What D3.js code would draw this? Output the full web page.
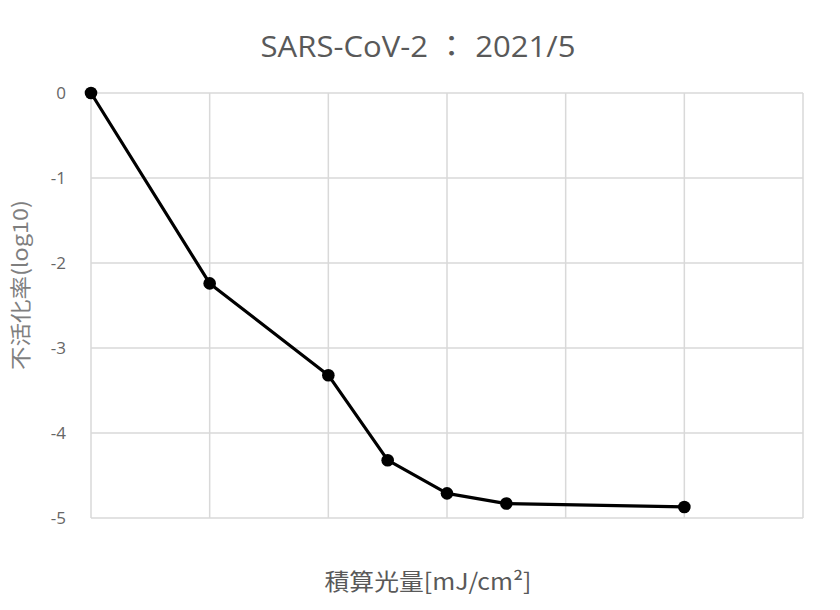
<!DOCTYPE html>
<html>
<head>
<meta charset="utf-8">
<script src="https://cdn.jsdelivr.net/npm/d3@7"></script>
<style>
  html, body { margin: 0; padding: 0; background: #fff; }
  svg { display: block; }
</style>
</head>
<body>
<svg id="chart" width="840" height="610"></svg>
<script>
const titleText = "SARS-CoV-2 ： 2021/5";
const xAxisTitle = "積算光量[mJ/cm²]";
const yAxisTitle = "不活化率(log10)";
const doseValues = [0, 1, 2, 2.5, 3, 3.5, 5];
const inactivation = [0, -2.24, -3.32, -4.32, -4.71, -4.83, -4.87];
const xGridTicks = [0, 1, 2, 3, 4, 5, 6];
const yTicks = [0, -1, -2, -3, -4, -5];

(function () {
const svg = d3.select("#chart");
const plotLeft = 91, plotRight = 803, plotTop = 93, plotBottom = 518;

const x = d3.scaleLinear().domain([0, 6]).range([plotLeft, plotRight]);
const y = d3.scaleLinear().domain([-5, 0]).range([plotBottom, plotTop]);

const grid = "#d9d9d9";
const textGray = "#595959";

svg.append("g").selectAll("line").data(xGridTicks).join("line")
  .attr("x1", d => x(d)).attr("x2", d => x(d))
  .attr("y1", plotTop).attr("y2", plotBottom)
  .attr("stroke", grid).attr("stroke-width", 1.5);

svg.append("g").selectAll("line").data(yTicks).join("line")
  .attr("x1", plotLeft).attr("x2", plotRight)
  .attr("y1", d => y(d)).attr("y2", d => y(d))
  .attr("stroke", grid).attr("stroke-width", 1.5);

const yAxis = d3.axisLeft(y).tickValues(yTicks).tickSize(0).tickPadding(25)
  .tickFormat(d => String(d));
const ya = svg.append("g").attr("transform", `translate(${plotLeft},0)`).call(yAxis);
ya.select(".domain").remove();
ya.attr("font-size", null).attr("font-family", null);
ya.selectAll("text")
  .style("font-family", "'Open Sans', 'Noto Sans', sans-serif")
  .style("font-size", "17px").style("fill", "#666666");

const pts = doseValues.map((d, i) => [d, inactivation[i]]);
svg.append("path").datum(pts)
  .attr("fill", "none").attr("stroke", "#000").attr("stroke-width", 3.2)
  .attr("stroke-linejoin", "round")
  .attr("d", d3.line().x(d => x(d[0])).y(d => y(d[1])));

svg.append("g").selectAll("circle").data(pts).join("circle")
  .attr("cx", d => x(d[0])).attr("cy", d => y(d[1]))
  .attr("r", 6.3).attr("fill", "#000");

svg.append("text")
  .attr("x", 418).attr("y", 57)
  .attr("text-anchor", "middle")
  .style("font-family", "'Open Sans', 'Noto Sans', 'Noto Sans CJK JP', sans-serif")
  .style("font-size", "29px").style("fill", textGray)
  .attr("textLength", 315).attr("lengthAdjust", "spacingAndGlyphs")
  .text(titleText);

svg.append("text")
  .attr("x", 428).attr("y", 590)
  .attr("text-anchor", "middle")
  .style("font-family", "'Noto Sans CJK JP', 'Open Sans', sans-serif")
  .style("font-size", "23px").style("fill", textGray)
  .attr("textLength", 207).attr("lengthAdjust", "spacingAndGlyphs")
  .text(xAxisTitle);

svg.append("text")
  .attr("transform", "translate(28,285) rotate(-90)")
  .attr("text-anchor", "middle")
  .style("font-family", "'Noto Sans CJK JP', 'Open Sans', sans-serif")
  .style("font-size", "21px").style("fill", "#7f7f7f")
  .attr("textLength", 170).attr("lengthAdjust", "spacingAndGlyphs")
  .text(yAxisTitle);
})();
</script>
</body>
</html>
